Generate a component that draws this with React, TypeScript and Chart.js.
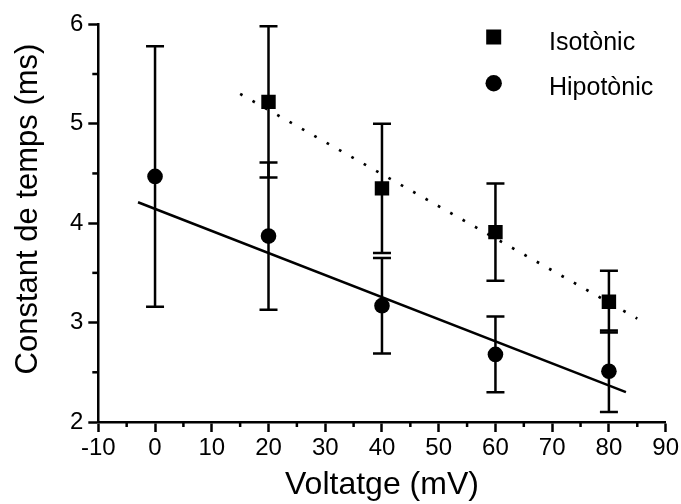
import React, { useEffect, useRef } from "react";
import { Chart, registerables } from "chart.js";

Chart.register(...registerables);

// ---- data ----
const isoX = [20, 40, 60, 80];
const isoY = [5.22, 4.35, 3.91, 3.21];
const isoErr = [0.76, 0.65, 0.49, 0.31];

const hipoX = [0, 20, 40, 60, 80];
const hipoY = [4.47, 3.87, 3.17, 2.68, 2.51];
const hipoErr = [1.31, 0.74, 0.48, 0.38, 0.41];

const isoFitX = [15, 85];
const isoFitY = [5.3, 3.04];
const hipoFitX = [-3, 83];
const hipoFitY = [4.21, 2.3];

const xMin = -10;
const xMax = 90;
const xStep = 10;
const yMin = 2;
const yMax = 6;
const yStep = 1;

const seriesNames = ["Isotònic", "Hipotònic"];
const xTitle = "Voltatge (mV)";
const yTitle = "Constant de temps (ms)";

const FONT = "'Liberation Sans', Arial, Helvetica, sans-serif";
const LW = 2.5;

const toPts = (xs: number[], ys: number[]) => xs.map((x, i) => ({ x, y: ys[i] }));

const errorBarPlugin = {
  id: "errorBars",
  beforeDatasetsDraw(chart: any) {
    const { ctx, scales } = chart;
    const xs = scales.x;
    const ys = scales.y;
    const draw = (X: number[], Y: number[], E: number[]) => {
      X.forEach((xv, i) => {
        const px = xs.getPixelForValue(xv);
        const top = ys.getPixelForValue(Y[i] + E[i]);
        const bot = ys.getPixelForValue(Y[i] - E[i]);
        ctx.beginPath();
        ctx.moveTo(px, top);
        ctx.lineTo(px, bot);
        ctx.moveTo(px - 9, top);
        ctx.lineTo(px + 9, top);
        ctx.moveTo(px - 9, bot);
        ctx.lineTo(px + 9, bot);
        ctx.stroke();
      });
    };
    ctx.save();
    ctx.strokeStyle = "#000";
    ctx.lineWidth = LW;
    draw(isoX, isoY, isoErr);
    draw(hipoX, hipoY, hipoErr);
    ctx.restore();
  },
};

const extrasPlugin = {
  id: "extras",
  afterDraw(chart: any) {
    const { ctx, scales, chartArea } = chart;
    const xs = scales.x;
    const ys = scales.y;
    ctx.save();
    ctx.strokeStyle = "#000";
    ctx.lineWidth = LW;
    // minor ticks
    for (let v = xMin + xStep / 2; v < xMax; v += xStep) {
      const px = xs.getPixelForValue(v);
      ctx.beginPath();
      ctx.moveTo(px, chartArea.bottom);
      ctx.lineTo(px, chartArea.bottom + 5);
      ctx.stroke();
    }
    for (let v = yMin + yStep / 2; v < yMax; v += yStep) {
      const py = ys.getPixelForValue(v);
      ctx.beginPath();
      ctx.moveTo(chartArea.left, py);
      ctx.lineTo(chartArea.left - 6, py);
      ctx.stroke();
    }
    // y title
    ctx.fillStyle = "#000";
    ctx.font = `31px ${FONT}`;
    ctx.textAlign = "center";
    ctx.textBaseline = "alphabetic";
    ctx.translate(37, 209);
    ctx.rotate(-Math.PI / 2);
    ctx.fillText(yTitle, 0, 0);
    ctx.restore();

    // legend
    ctx.save();
    ctx.fillStyle = "#000";
    ctx.fillRect(493.7 - 7.5, 37 - 7.5, 15, 15);
    ctx.beginPath();
    ctx.arc(493.7, 83.3, 8.2, 0, Math.PI * 2);
    ctx.fill();
    ctx.font = `25px ${FONT}`;
    ctx.textAlign = "left";
    ctx.textBaseline = "alphabetic";
    ctx.fillText(seriesNames[0], 549, 49.5);
    ctx.fillText(seriesNames[1], 549, 95);
    ctx.restore();
  },
};

export default function App() {
  const ref = useRef<HTMLCanvasElement | null>(null);

  useEffect(() => {
    if (!ref.current) return;
    const chart = new Chart(ref.current, {
      type: "scatter",
      data: {
        datasets: [
          {
            type: "line",
            label: "fit iso",
            data: toPts(isoFitX, isoFitY),
            borderColor: "#000",
            borderWidth: 2.7,
            borderDash: [2.7, 11.5],
            pointRadius: 0,
            showLine: true,
            fill: false,
          } as any,
          {
            type: "line",
            label: "fit hipo",
            data: toPts(hipoFitX, hipoFitY),
            borderColor: "#000",
            borderWidth: LW,
            pointRadius: 0,
            showLine: true,
            fill: false,
          } as any,
          {
            label: seriesNames[0],
            data: toPts(isoX, isoY),
            pointStyle: "rect",
            pointRadius: 10.2,
            backgroundColor: "#000",
            borderColor: "#000",
            borderWidth: 0,
          },
          {
            label: seriesNames[1],
            data: toPts(hipoX, hipoY),
            pointStyle: "circle",
            pointRadius: 7.8,
            backgroundColor: "#000",
            borderColor: "#000",
            borderWidth: 0,
          },
        ],
      },
      options: {
        responsive: false,
        animation: false,
        events: [],
        layout: { padding: { left: 0, top: 24.3, right: 15.3, bottom: 0 } },
        plugins: {
          legend: { display: false },
          tooltip: { enabled: false },
        },
        scales: {
          x: {
            type: "linear",
            min: xMin,
            max: xMax,
            afterFit: (s: any) => {
              s.height = 82;
            },
            ticks: {
              stepSize: xStep,
              color: "#000",
              font: { family: FONT, size: 24 },
              padding: 2,
              maxRotation: 0,
            },
            grid: {
              drawOnChartArea: false,
              drawTicks: true,
              tickLength: 10,
              tickWidth: LW,
              tickColor: "#000",
            },
            border: { display: true, color: "#000", width: LW },
            title: {
              display: true,
              text: xTitle,
              color: "#000",
              font: { family: FONT, size: 32 },
              padding: { top: 0, bottom: 0 },
            },
          },
          y: {
            type: "linear",
            min: yMin,
            max: yMax,
            afterFit: (s: any) => {
              s.width = 98.3;
            },
            ticks: {
              stepSize: yStep,
              color: "#000",
              font: { family: FONT, size: 24 },
              padding: 5,
            },
            grid: {
              drawOnChartArea: false,
              drawTicks: true,
              tickLength: 10,
              tickWidth: LW,
              tickColor: "#000",
            },
            border: { display: true, color: "#000", width: LW },
            title: { display: false },
          },
        },
      } as any,
      plugins: [errorBarPlugin, extrasPlugin],
    });
    return () => chart.destroy();
  }, []);

  return (
    <div style={{ position: "fixed", left: 0, top: 0, width: 681, height: 504, background: "#fff" }}>
      <canvas ref={ref} width={681} height={504} style={{ display: "block" }} />
    </div>
  );
}
